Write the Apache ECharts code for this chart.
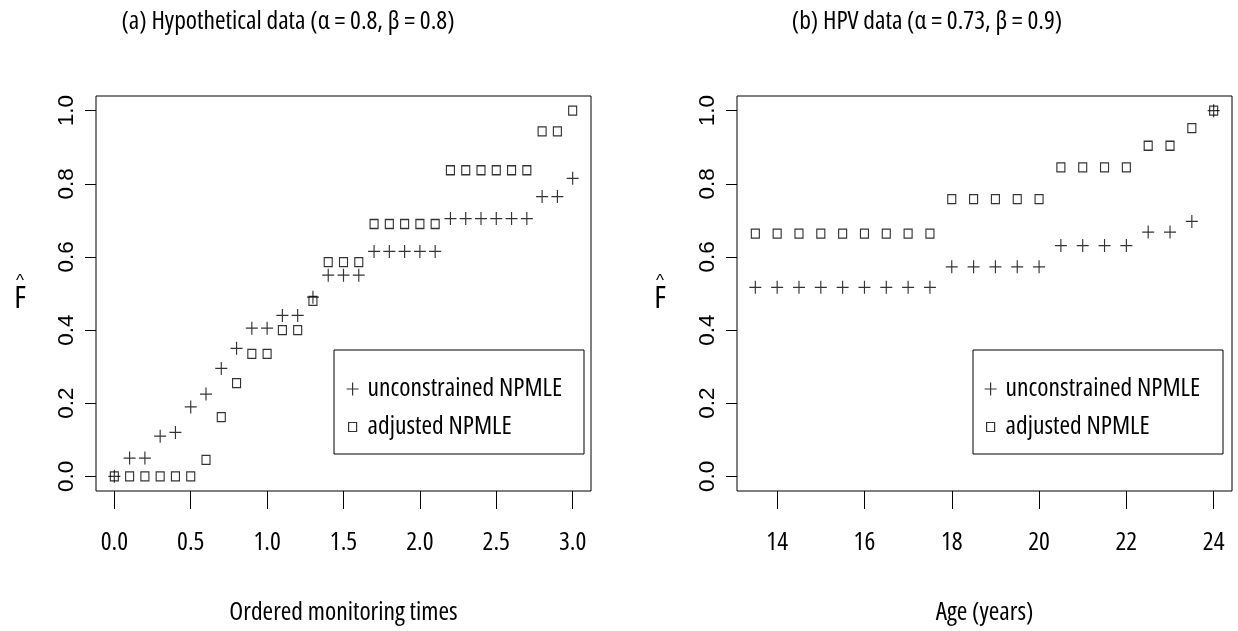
<!DOCTYPE html>
<html>
<head>
<meta charset="utf-8">
<script src="https://cdn.jsdelivr.net/npm/echarts@6/dist/echarts.min.js"></script>
<style>
html,body{margin:0;padding:0;background:#fff;}
#chart{width:1238px;height:631px;}
</style>
</head>
<body>
<div id="chart"></div>
<script>
// ---- Panel (a): Hypothetical data ----
const timesA = [0.0,0.1,0.2,0.3,0.4,0.5,0.6,0.7,0.8,0.9,1.0,1.1,1.2,1.3,1.4,1.5,1.6,1.7,1.8,1.9,2.0,2.1,2.2,2.3,2.4,2.5,2.6,2.7,2.8,2.9,3.0];
const unconstrainedA = [0.00,0.05,0.05,0.11,0.12,0.19,0.225,0.295,0.35,0.405,0.405,0.44,0.44,0.49,0.55,0.55,0.55,0.615,0.615,0.615,0.615,0.615,0.705,0.705,0.705,0.705,0.705,0.705,0.765,0.765,0.815];
const adjustedA = [0,0,0,0,0,0,0.045,0.162,0.255,0.335,0.335,0.40,0.40,0.48,0.586,0.586,0.586,0.69,0.69,0.69,0.69,0.69,0.837,0.837,0.837,0.837,0.837,0.837,0.943,0.943,1.0];
const xTicksA = [0,0.5,1,1.5,2,2.5,3];

// ---- Panel (b): HPV data ----
const agesB = [13.5,14,14.5,15,15.5,16,16.5,17,17.5,18,18.5,19,19.5,20,20.5,21,21.5,22,22.5,23,23.5,24];
const unconstrainedB = [0.517,0.517,0.517,0.517,0.517,0.517,0.517,0.517,0.517,0.573,0.573,0.573,0.573,0.573,0.631,0.631,0.631,0.631,0.668,0.668,0.697,1.0];
const adjustedB = [0.664,0.664,0.664,0.664,0.664,0.664,0.664,0.664,0.664,0.758,0.758,0.758,0.758,0.758,0.845,0.845,0.845,0.845,0.904,0.904,0.952,1.0];
const xTicksB = [14,16,18,20,22,24];

const yTicks = [0,0.2,0.4,0.6,0.8,1.0];
const titles = ['(a) Hypothetical data (\u03b1 = 0.8, \u03b2 = 0.8)', '(b) HPV data (\u03b1 = 0.73, \u03b2 = 0.9)'];
const xNames = ['Ordered monitoring times', 'Age (years)'];
const seriesNames = ['unconstrained NPMLE', 'adjusted NPMLE'];

const NARROW = '"Open Sans", Roboto, "Liberation Sans", sans-serif';
const STRETCH = 'condensed';
const REG = '"Liberation Sans", Arial, sans-serif';
const FS = 25.5;
const plusSym = 'path://M6,0L6,13M0,6.5L12,6.5';
const plusIcon = 'path://M0,0M20,16M10,1.5L10,14.5M4,8L16,8';
const sqIcon = 'path://M0,0M20,16M6,3.5L14,3.5L14,12.5L6,12.5Z';
const markStyle = {color:'transparent', borderColor:'#000', borderWidth:1.2};
const narrowText = {fontFamily:NARROW, fontStyle:STRETCH, fontSize:FS, color:'#000'};

function pairs(xs, ys){ return xs.map((x,i)=>[x, ys[i]]); }

function xAxisDef(idx, min, max, ticks, fmt){
  return {
    type:'value', gridIndex:idx, min:min, max:max,
    axisLine:{show:false, onZero:false}, splitLine:{show:false},
    axisTick:{show:true, length:18, customValues:ticks, lineStyle:{color:'#000', width:1}},
    axisLabel:Object.assign({customValues:ticks, formatter:fmt, margin:39}, narrowText),
    name:xNames[idx], nameLocation:'middle', nameGap:109,
    nameTextStyle:Object.assign({}, narrowText)
  };
}
function yAxisDef(idx){
  return {
    type:'value', gridIndex:idx, min:-0.04, max:1.04,
    axisLine:{show:false, onZero:false}, splitLine:{show:false},
    axisTick:{show:true, length:11, customValues:yTicks, lineStyle:{color:'#000', width:1}},
    axisLabel:{customValues:yTicks, formatter:v=>v.toFixed(1), rotate:90, margin:18, fontFamily:REG, fontSize:22.5, color:'#000'}
  };
}
function legendDef(left){
  return {
    left:left, top:376, orient:'vertical', itemWidth:20, itemHeight:16, itemGap:12, padding:0,
    data:[{name:seriesNames[0], icon:plusIcon},{name:seriesNames[1], icon:sqIcon}],
    itemStyle:markStyle,
    textStyle:Object.assign({lineHeight:22}, narrowText)
  };
}
function yNameGraphic(x){
  return {type:'text', x:x, y:294, style:{text:'{h|^}\n{f|F}', align:'center', verticalAlign:'middle', fill:'#000',
    rich:{h:{fontFamily:REG, fontSize:17, lineHeight:11, align:'center', fill:'#000'},
          f:{fontFamily:NARROW, fontStyle:STRETCH, fontSize:31, lineHeight:26, align:'center', fill:'#000'}}}};
}
function titleGraphic(x, txt){
  return {type:'text', x:x, y:22, style:{text:txt, fontFamily:NARROW, fontStyle:STRETCH, fontSize:FS, fill:'#000', align:'center', verticalAlign:'middle'}};
}

const chart = echarts.init(document.getElementById('chart'), null, {renderer:'canvas'});
chart.setOption({
  animation:false,
  backgroundColor:'#fff',
  grid:[
    {left:96, top:96, width:495, height:398, show:true, borderColor:'#000', borderWidth:1, backgroundColor:'transparent'},
    {left:737, top:96, width:495, height:398, show:true, borderColor:'#000', borderWidth:1, backgroundColor:'transparent'}
  ],
  xAxis:[
    xAxisDef(0, -0.12, 3.12, xTicksA, v=>v.toFixed(1)),
    xAxisDef(1, 13.08, 24.42, xTicksB, v=>String(v))
  ],
  yAxis:[yAxisDef(0), yAxisDef(1)],
  legend:[legendDef(342), legendDef(980)],
  graphic:[
    titleGraphic(288, titles[0]), titleGraphic(927, titles[1]),
    yNameGraphic(20), yNameGraphic(660),
    {type:'rect', shape:{x:334, y:350, width:250, height:104}, style:{fill:'none', stroke:'#000', lineWidth:1}},
    {type:'rect', shape:{x:973, y:350, width:250, height:104}, style:{fill:'none', stroke:'#000', lineWidth:1}}
  ],
  series:[
    {type:'scatter', name:seriesNames[0], xAxisIndex:0, yAxisIndex:0, data:pairs(timesA, unconstrainedA), symbol:plusSym, symbolSize:[12,13], itemStyle:markStyle},
    {type:'scatter', name:seriesNames[1], xAxisIndex:0, yAxisIndex:0, data:pairs(timesA, adjustedA), symbol:'rect', symbolSize:[8,9], itemStyle:markStyle},
    {type:'scatter', name:seriesNames[0], xAxisIndex:1, yAxisIndex:1, data:pairs(agesB, unconstrainedB), symbol:plusSym, symbolSize:[12,13], itemStyle:markStyle},
    {type:'scatter', name:seriesNames[1], xAxisIndex:1, yAxisIndex:1, data:pairs(agesB, adjustedB), symbol:'rect', symbolSize:[8,9], itemStyle:markStyle}
  ]
});
</script>
</body>
</html>
